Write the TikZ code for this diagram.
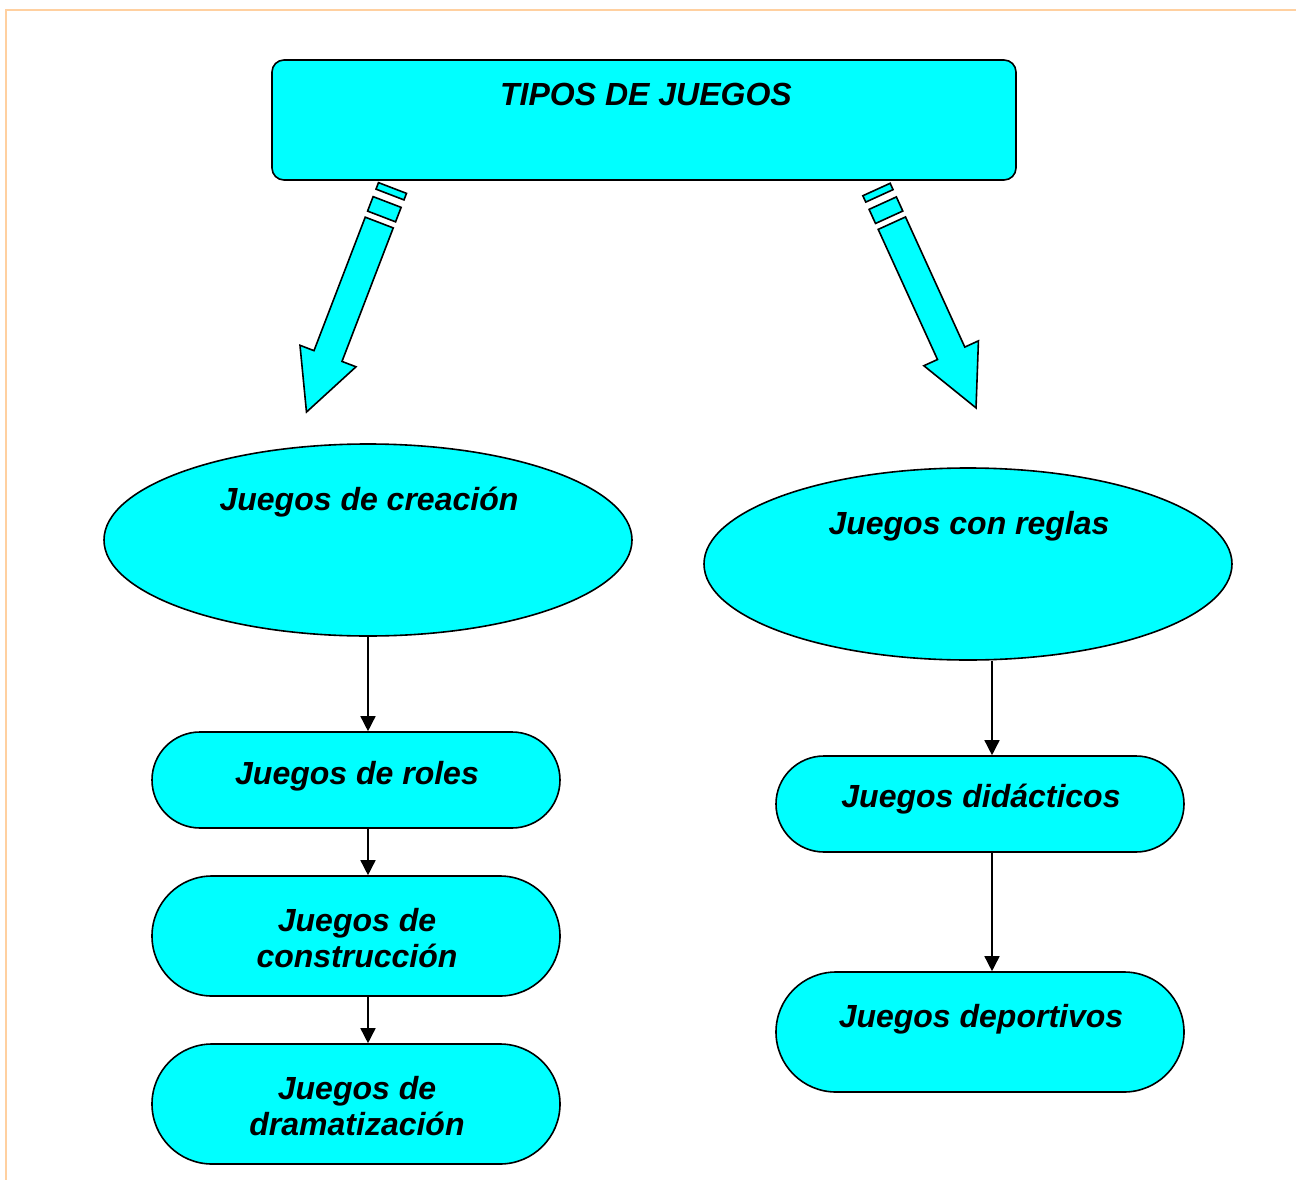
\documentclass[tikz,border=0pt]{standalone}
\usepackage{fontspec}
\setmainfont{Liberation Sans}
\usetikzlibrary{shapes.geometric,arrows.meta}
\definecolor{cy}{RGB}{0,255,255}
\definecolor{brd}{RGB}{255,208,160}
\begin{document}
\begin{tikzpicture}[x=1pt,y=-1pt,
  lbl/.style={font=\fontsize{32}{36}\selectfont\bfseries\itshape, align=center, inner sep=0pt},
  box/.style={draw=black, line width=1.6pt, fill=cy, inner sep=0pt},
  stad/.style={box, minimum width=408pt},
  conn/.style={line width=1.5pt, -{Triangle[length=15pt,width=15pt]}},
  blk/.style={draw=black, line width=1.6pt, fill=cy, line join=miter}]
\useasboundingbox (0,0) rectangle (1296,1180);
\draw[brd, line width=2pt] (6,1180) -- (6,10) -- (1296,10);
% shapes
\node[box, rounded corners=12pt, minimum width=744pt, minimum height=120pt] (top) at (644,120) {};
\node[box, ellipse, minimum width=528pt, minimum height=192pt] (ec) at (368,540) {};
\node[box, ellipse, minimum width=528pt, minimum height=192pt] (er) at (968,564) {};
\node[stad, rounded corners=48pt, minimum height=96pt] (roles) at (356,780) {};
\node[stad, rounded corners=60pt, minimum height=120pt] (cons) at (356,936) {};
\node[stad, rounded corners=60pt, minimum height=120pt] (dram) at (356,1104) {};
\node[stad, rounded corners=48pt, minimum height=96pt] (did) at (980,804) {};
\node[stad, rounded corners=60pt, minimum height=120pt] (dep) at (980,1032) {};
% labels
\node[lbl] (ltop) at (646,94) {TIPOS DE JUEGOS};
\node[lbl] (lec) at (369,502) {Juegos de creación};
\node[lbl] (ler) at (969,526) {Juegos con reglas};
\node[lbl] (lroles) at (357,776) {Juegos de roles};
\node[lbl] (lcons) at (357,938) {Juegos de\\construcción};
\node[lbl] (ldram) at (357,1106) {Juegos de\\dramatización};
\node[lbl] (ldid) at (981,799) {Juegos didácticos};
\node[lbl] (ldep) at (981,1019) {Juegos deportivos};
% connectors
\coordinate (cl) at (368,0);
\coordinate (cr) at (992,0);
\draw[conn] (cl |- ec.south) -- (cl |- roles.north);
\draw[conn] (cl |- roles.south) -- (cl |- cons.north);
\draw[conn] (cl |- cons.south) -- (cl |- dram.north);
\draw[conn] (cr |- er.south) -- (cr |- did.north);
\draw[conn] (cr |- did.south) -- (cr |- dep.north);
% block arrows
\begin{scope}[shift={(392.5,188)}, rotate=-111]
  \draw[blk] (0,-15) -- (7,-15) -- (7,15) -- (0,15) -- cycle;
  \draw[blk] (15,-15) -- (30.5,-15) -- (30.5,15) -- (15,15) -- cycle;
  \draw[blk] (37,-15) -- (180,-15) -- (180,-30) -- (240,0) -- (180,30) -- (180,15) -- (37,15) -- cycle;
\end{scope}
\begin{scope}[shift={(876.5,189.5)}, rotate=-65.5]
  \draw[blk] (0,-15) -- (7,-15) -- (7,15) -- (0,15) -- cycle;
  \draw[blk] (15,-15) -- (30.5,-15) -- (30.5,15) -- (15,15) -- cycle;
  \draw[blk] (37,-15) -- (180,-15) -- (180,-30) -- (240,0) -- (180,30) -- (180,15) -- (37,15) -- cycle;
\end{scope}
\end{tikzpicture}
\end{document}
